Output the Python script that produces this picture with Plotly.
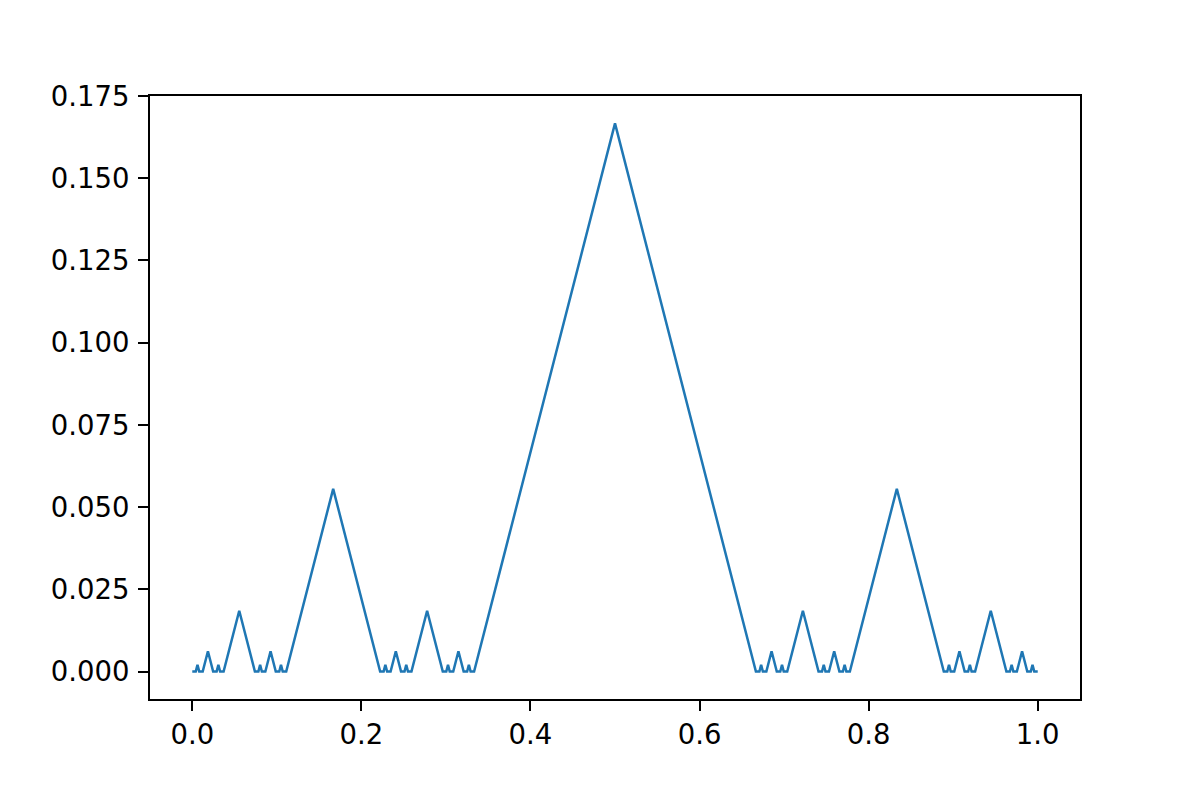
import plotly.graph_objects as go

# Gaps (removed intervals): left edge, right edge, peak height
gap_left = [0.004115, 0.012346, 0.028807, 0.037037, 0.078189, 0.086420, 0.102881,
            0.111111, 0.226337, 0.234568, 0.251029, 0.259259, 0.300412, 0.308642,
            0.325103, 0.333333, 0.670782, 0.679012, 0.695473, 0.703704, 0.744856,
            0.753086, 0.769547, 0.777778, 0.893004, 0.901235, 0.917695, 0.925926,
            0.967078, 0.975309, 0.991770]
gap_right = [0.008230, 0.024691, 0.032922, 0.074074, 0.082305, 0.098765, 0.106996,
             0.222222, 0.230453, 0.246914, 0.255144, 0.296296, 0.304527, 0.320988,
             0.329218, 0.666667, 0.674897, 0.691358, 0.699588, 0.740741, 0.748971,
             0.765432, 0.773663, 0.888889, 0.897119, 0.913580, 0.921811, 0.962963,
             0.971193, 0.987654, 0.995885]
gap_height = [0.00206, 0.00617, 0.00206, 0.01852, 0.00206, 0.00617, 0.00206,
              0.05556, 0.00206, 0.00617, 0.00206, 0.01852, 0.00206, 0.00617,
              0.00206, 0.16667, 0.00206, 0.00617, 0.00206, 0.01852, 0.00206,
              0.00617, 0.00206, 0.05556, 0.00206, 0.00617, 0.00206, 0.01852,
              0.00206, 0.00617, 0.00206]
x_start, x_end = 0.0, 1.0

xs, ys = [x_start], [0.0]
for a, b, h in zip(gap_left, gap_right, gap_height):
    xs += [a, (a + b) / 2, b]
    ys += [0.0, h, 0.0]
xs.append(x_end)
ys.append(0.0)

x_ticks = [0.0, 0.2, 0.4, 0.6, 0.8, 1.0]
y_ticks = [0.0, 0.025, 0.05, 0.075, 0.1, 0.125, 0.15, 0.175]

fig = go.Figure(go.Scatter(x=xs, y=ys, mode="lines",
                           line=dict(color="#1f77b4", width=2.5)))

axis_common = dict(showline=True, mirror=True, linecolor="black", linewidth=2,
                   ticks="outside", ticklen=10, tickwidth=2, tickcolor="black",
                   showgrid=False, zeroline=False,
                   tickfont=dict(family="DejaVu Sans", size=27.5, color="black"))
fig.update_xaxes(range=[-0.05, 1.05], tickvals=x_ticks, tickformat=".1f",
                 ticklabelstandoff=0, **axis_common)
fig.update_yaxes(range=[-0.00833, 0.175], tickvals=y_ticks, tickformat=".3f",
                 ticklabelstandoff=3, **axis_common)
fig.update_layout(width=1200, height=800, showlegend=False,
                  plot_bgcolor="white", paper_bgcolor="white",
                  margin=dict(l=142, r=128, t=88, b=109))
fig.write_html("out.html")
